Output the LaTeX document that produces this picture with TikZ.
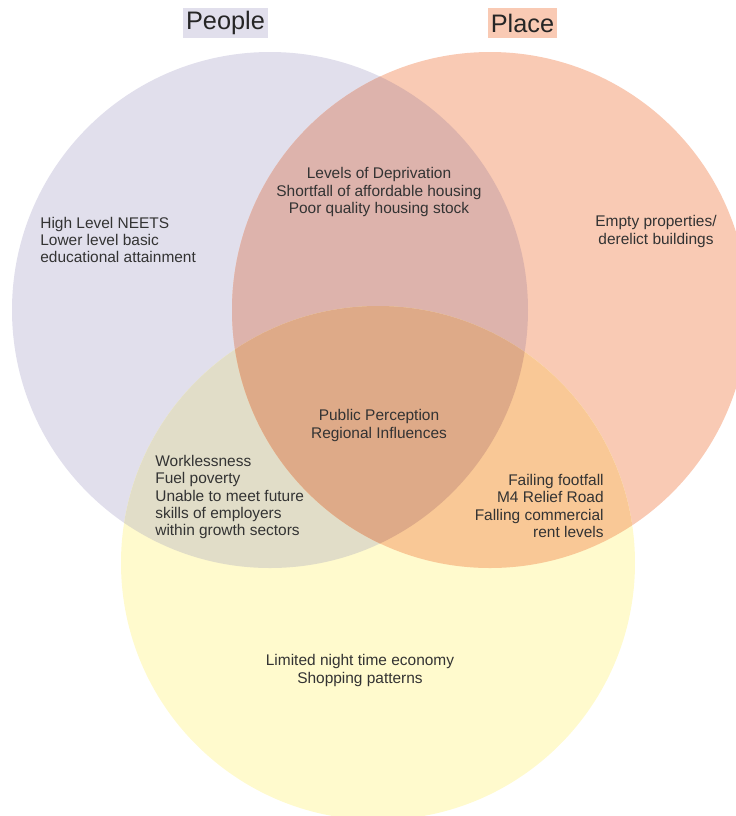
\documentclass[tikz,border=0pt]{standalone}
\usepackage{fontspec}
\setmainfont{Liberation Sans}

\begin{document}
\begin{tikzpicture}[x=0.02cm, y=-0.02cm]
  \tikzset{
    venn label/.style={
      text=black!80,
      font=\fontsize{8.8}{9.9}\selectfont,
      inner sep=0pt,
      align=#1,
    },
    venn label/.default=center,
    set title/.style={
      fill=#1,
      text=black!85,
      font=\fontsize{14.4}{16}\selectfont,
      inner xsep=1.6pt,
      inner ysep=0pt,
      minimum height=17pt,
    },
  }
  \definecolor{peoplefill}{HTML}{E1DFEC}
  \definecolor{placefill}{HTML}{F9CAB4}
  \definecolor{thirdfill}{HTML}{FFFACD}
  \definecolor{peopleplace}{HTML}{DDB3AC}
  \definecolor{peoplethird}{HTML}{E1DDC8}
  \definecolor{placethird}{HTML}{F9C896}
  \definecolor{allthree}{HTML}{DEAA88}
  \newcommand{\peopleset}{(270,310) circle[radius=258]}
  \newcommand{\placeset}{(490,310) circle[radius=258]}
  \newcommand{\thirdset}{(378,563) circle[radius=257]}

  \useasboundingbox (0,0) rectangle (736,816);
  \clip (0,0) rectangle (736,816);

  \fill[peoplefill] \peopleset;
  \fill[placefill] \placeset;
  \fill[thirdfill] \thirdset;
  \begin{scope}
    \clip \peopleset;
    \fill[peopleplace] \placeset;
    \fill[peoplethird] \thirdset;
  \end{scope}
  \begin{scope}
    \clip \placeset;
    \fill[placethird] \thirdset;
    \clip \thirdset;
    \fill[allthree] \peopleset;
  \end{scope}

  \node[set title=peoplefill] (people) at (225.5,23) {People};
  \node[set title=placefill] (place) at (522.5,23) {Place};

  \node[venn label=left, anchor=west] (neets) at (40,240)
    {High Level NEETS\\Lower level basic\\educational attainment};
  \node[venn label] (deprivation) at (379,192)
    {Levels of Deprivation\\Shortfall of affordable housing\\Poor quality housing stock};
  \node[venn label] (empty) at (656,231.5)
    {Empty properties/\\derelict buildings};
  \node[venn label] (perception) at (379,425.5)
    {Public Perception\\Regional Influences};
  \node[venn label=left, anchor=west] (workless) at (155,497)
    {Worklessness\\Fuel poverty\\Unable to meet future\\skills of employers\\within growth sectors};
  \node[venn label=right, anchor=east] (footfall) at (604,506)
    {Failing footfall\\M4 Relief Road\\Falling commercial\\rent levels};
  \node[venn label] (nighttime) at (360,670.5)
    {Limited night time economy\\Shopping patterns};
\end{tikzpicture}
\end{document}
